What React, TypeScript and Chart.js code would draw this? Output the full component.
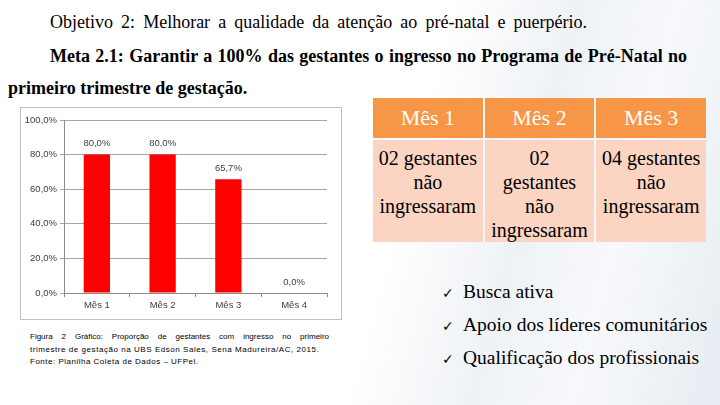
import React, { useEffect, useRef } from "react";
import { Chart, registerables } from "chart.js";

Chart.register(...registerables);

const categories = ["Mês 1", "Mês 2", "Mês 3", "Mês 4"];
const values = [80.0, 80.0, 65.7, 0.0];
const yTicks = [0, 20, 40, 60, 80, 100];

const tableHeaders = ["Mês 1", "Mês 2", "Mês 3"];
const tableCells = [
  ["02 gestantes", "não", "ingressaram"],
  ["02", "gestantes", "não", "ingressaram"],
  ["04 gestantes", "não", "ingressaram"],
];
const bullets = ["Busca ativa", "Apoio dos líderes comunitários", "Qualificação dos profissionais"];

const fmt = (v: number) => v.toFixed(1).replace(".", ",") + "%";

const labelPlugin = {
  id: "barLabels",
  afterDatasetsDraw(chart: any) {
    const ctx = chart.ctx;
    const meta = chart.getDatasetMeta(0);
    ctx.save();
    ctx.font = "9.5px 'Liberation Sans'";
    ctx.fillStyle = "#404040";
    ctx.textAlign = "center";
    ctx.textBaseline = "bottom";
    meta.data.forEach((bar: any, i: number) => {
      ctx.fillText(fmt(values[i]), bar.x, bar.y - 6);
    });
    ctx.restore();
  },
};

function BarChart() {
  const ref = useRef<HTMLCanvasElement | null>(null);
  useEffect(() => {
    if (!ref.current) return;
    const chart = new Chart(ref.current, {
      type: "bar",
      data: {
        labels: categories,
        datasets: [
          {
            data: values,
            backgroundColor: "#FF0000",
            categoryPercentage: 1,
            barPercentage: 0.4,
          },
        ],
      },
      options: {
        animation: false,
        responsive: false,
        maintainAspectRatio: false,
        layout: { padding: { left: 0, right: 14, top: 12, bottom: 4 } },
        plugins: { legend: { display: false }, tooltip: { enabled: false } },
        scales: {
          x: {
            grid: {
              display: true,
              drawOnChartArea: false,
              offset: true,
              tickLength: 4,
              color: "#8c8c8c",
            },
            border: { color: "#8c8c8c" },
            ticks: {
              color: "#404040",
              font: { family: "Liberation Sans", size: 9.5 },
              padding: 3,
            },
            afterFit: (s: any) => {
              s.height = 22;
            },
          },
          y: {
            min: 0,
            max: 100,
            afterBuildTicks: (s: any) => {
              s.ticks = yTicks.map((v) => ({ value: v }));
            },
            grid: { color: "#a6a6a6", tickLength: 4 },
            border: { color: "#8c8c8c" },
            ticks: {
              color: "#404040",
              font: { family: "Liberation Sans", size: 9.5 },
              padding: 3,
              callback: (v: any) => fmt(Number(v)),
            },
            afterFit: (s: any) => {
              s.width = 43;
            },
          },
        },
      },
      plugins: [labelPlugin],
    });
    return () => chart.destroy();
  }, []);
  return <canvas ref={ref} width={320} height={211} style={{ display: "block" }} />;
}

export default function App() {
  const serif = "Liberation Serif";
  return (
    <div
      style={{
        position: "fixed",
        left: 0,
        top: 0,
        width: 720,
        height: 405,
        overflow: "hidden",
        background:
          "linear-gradient(105deg, #ffffff 0%, #ffffff 55%, #eef2f6 70%, #f7f9fb 82%, #e6ecf2 100%)",
        fontFamily: serif,
      }}
    >
      <div
        style={{
          position: "absolute",
          left: 50,
          top: 12,
          width: 537,
          fontSize: 18,
          whiteSpace: "nowrap",
          color: "#000",
          textAlign: "justify",
          textAlignLast: "justify",
        }}
      >
        Objetivo 2: Melhorar a qualidade da atenção ao pré-natal e puerpério.
      </div>
      <div
        style={{
          position: "absolute",
          left: 50,
          top: 46,
          width: 637,
          fontSize: 18,
          fontWeight: "bold",
          whiteSpace: "nowrap",
          textAlign: "justify",
          textAlignLast: "justify",
        }}
      >
        Meta 2.1: Garantir a 100% das gestantes o ingresso no Programa de Pré-Natal no
      </div>
      <div style={{ position: "absolute", left: 8, top: 78, fontSize: 18, fontWeight: "bold", whiteSpace: "nowrap" }}>
        primeiro trimestre de gestação.
      </div>

      <div
        style={{
          position: "absolute",
          left: 20,
          top: 107,
          width: 320,
          height: 211,
          border: "1px solid #bfbfbf",
          background: "#fff",
        }}
      >
        <BarChart />
      </div>

      <div style={{ position: "absolute", left: 30, top: 331, width: 299, fontFamily: "Liberation Sans", fontSize: 8, lineHeight: "12.5px", color: "#000" }}>
        <div style={{ textAlign: "justify", textAlignLast: "justify", whiteSpace: "nowrap" }}>
          Figura 2 Gráfico: Proporção de gestantes com ingresso no primeiro
        </div>
        <div style={{ whiteSpace: "nowrap", letterSpacing: 0.55 }}>
          trimestre de gestação na UBS Edson Sales, Sena Madureira/AC, 2015.
        </div>
        <div style={{ whiteSpace: "nowrap", letterSpacing: 0.5 }}>Fonte: Planilha Coleta de Dados – UFPel.</div>
      </div>

      <table
        style={{
          position: "absolute",
          left: 371,
          top: 96,
          width: 337,
          borderCollapse: "separate",
          borderSpacing: 2,
        }}
      >
        <thead>
          <tr>
            {tableHeaders.map((h) => (
              <th
                key={h}
                style={{
                  background: "#F79646",
                  color: "#fff",
                  fontWeight: "normal",
                  fontSize: 22,
                  height: 40,
                  padding: 0,
                  width: "33.3%",
                  fontFamily: serif,
                }}
              >
                {h}
              </th>
            ))}
          </tr>
        </thead>
        <tbody>
          <tr>
            {tableCells.map((lines, i) => (
              <td
                key={i}
                style={{
                  background: "#FBD5C1",
                  fontSize: 20,
                  lineHeight: "24px",
                  textAlign: "center",
                  verticalAlign: "top",
                  height: 97,
                  padding: "6px 0 0 0",
                  boxSizing: "border-box",
                  whiteSpace: "nowrap",
                  fontFamily: serif,
                }}
              >
                {lines.map((l, j) => (
                  <div key={j}>{l}</div>
                ))}
              </td>
            ))}
          </tr>
        </tbody>
      </table>

      {bullets.map((b, i) => (
        <div
          key={b}
          style={{
            position: "absolute",
            left: 442,
            top: 281 + i * 33,
            fontSize: 19.5,
            whiteSpace: "nowrap",
          }}
        >
          <span style={{ display: "inline-block", width: 21, fontSize: 14 }}>✓</span>
          {b}
        </div>
      ))}
    </div>
  );
}
